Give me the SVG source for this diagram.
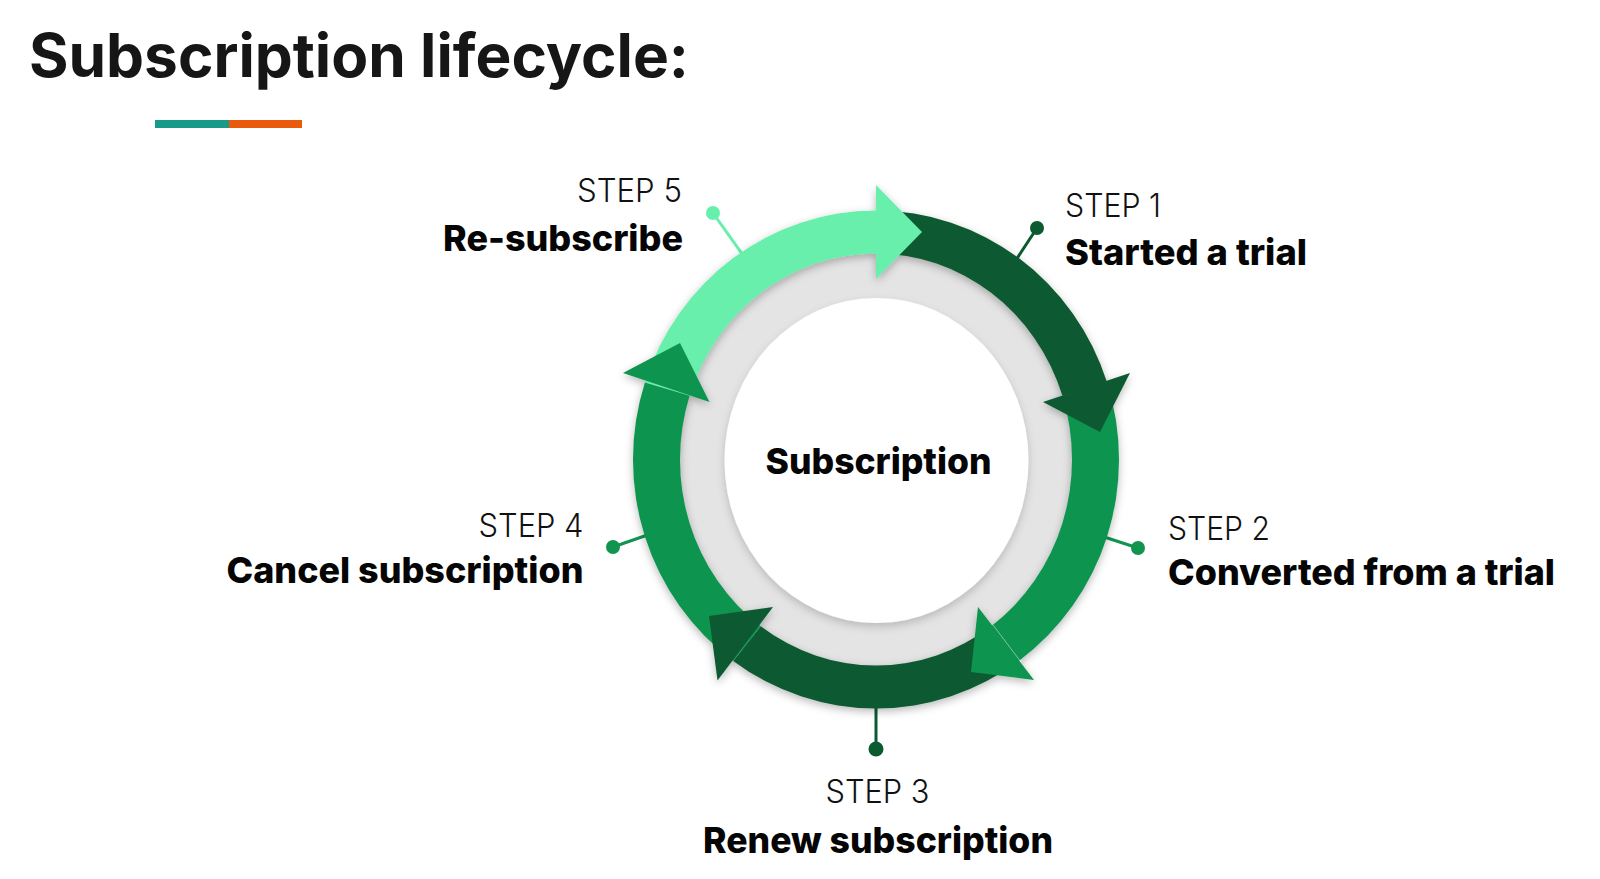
<svg xmlns="http://www.w3.org/2000/svg" width="1600" height="879" viewBox="0 0 1600 879">
  <defs>
    <filter id="bandShadow" x="-20%" y="-20%" width="140%" height="140%">
      <feDropShadow dx="0" dy="3" stdDeviation="4" flood-color="#000" flood-opacity="0.28"/>
    </filter>
    <filter id="discShadow" x="-20%" y="-20%" width="140%" height="140%">
      <feDropShadow dx="0" dy="4" stdDeviation="4" flood-color="#000" flood-opacity="0.18"/>
    </filter>
  </defs>
  <style>
    .title { font-family: Inter, "DejaVu Sans", sans-serif; font-weight: 700; font-size: 60px; fill: #161616; }
    .step { font-family: Inter, "Open Sans", sans-serif; font-weight: 300; font-size: 32px; fill: #111; }
    .lbl { font-family: Inter, "DejaVu Sans", sans-serif; font-weight: 800; font-size: 36px; fill: #050505; }
    .light { fill: #67efac; }
    .dark { fill: #0b5a30; }
    .mid { fill: #109450; }
    .stem { stroke-width: 3; fill: none; }
  </style>
  <rect width="1600" height="879" fill="#ffffff"/>

  <g id="title">
    <text class="title" x="29" y="77" textLength="660" lengthAdjust="spacingAndGlyphs">Subscription lifecycle:</text>
    <rect x="155" y="120" width="74" height="8" fill="#179a8a"/>
    <rect x="229" y="120" width="73" height="8" fill="#ea5a0c"/>
  </g>

  <g id="connectors">
    <line class="stem" x1="713" y1="213" x2="745" y2="258" stroke="#67efac"/>
    <circle cx="713" cy="213" r="7" class="light"/>
    <line class="stem" x1="1037" y1="228" x2="1012" y2="266" stroke="#0b5a30"/>
    <circle cx="1037" cy="228" r="7" class="dark"/>
    <line class="stem" x1="1138" y1="548" x2="1095" y2="534" stroke="#109450"/>
    <circle cx="1138" cy="548" r="7" class="mid"/>
    <line class="stem" x1="876" y1="749" x2="876" y2="700" stroke="#0b5a30"/>
    <circle cx="876" cy="749" r="7.5" class="dark"/>
    <line class="stem" x1="613" y1="547" x2="656" y2="532" stroke="#109450"/>
    <circle cx="613" cy="547" r="7" class="mid"/>
  </g>

  <g id="hub">
    <ellipse cx="876" cy="459.5" rx="222" ry="230" fill="#e4e4e4"/>
    <ellipse cx="876.5" cy="460.5" rx="152" ry="162.5" fill="#ffffff" filter="url(#discShadow)"/>
    <text class="lbl" x="878.5" y="474" text-anchor="middle" textLength="226" lengthAdjust="spacingAndGlyphs">Subscription</text>
  </g>

  <g id="ring" filter="url(#bandShadow)">
    <path class="light" d="M644.89 382.55 A243 249 0 0 1 876 210.5 L876 253.5 A196 206 0 0 0 689.59 395.84 Z"/>
    <path class="dark" d="M876 210.5 A243 249 0 0 1 1107.11 382.55 L1062.41 395.84 A196 206 0 0 0 876 253.5 Z"/>
    <path class="mid" d="M1107.11 382.55 A243 249 0 0 1 1018.83 660.95 L991.21 626.16 A196 206 0 0 0 1062.41 395.84 Z"/>
    <path class="dark" d="M1018.83 660.95 A243 249 0 0 1 733.17 660.95 L760.79 626.16 A196 206 0 0 0 991.21 626.16 Z"/>
    <path class="mid" d="M733.17 660.95 A243 249 0 0 1 644.89 382.55 L689.59 395.84 A196 206 0 0 0 760.79 626.16 Z"/>
    <polygon class="light" points="876,185 922,232 876,279"/>
    <polygon class="dark" points="1043,402 1130,373 1100,432"/>
    <polygon class="mid" points="978,607 1034,680 971,672"/>
    <line x1="993" y1="625" x2="1021" y2="662" stroke="#ffffff" stroke-opacity="0.45" stroke-width="1"/>
    <polygon class="dark" points="773,607 717.5,680.5 709,616"/>
    <polygon class="mid" points="623,373 709.5,402 680,343"/>
  </g>

  <g id="step1">
    <text class="step" x="1065" y="217" textLength="96" lengthAdjust="spacingAndGlyphs">STEP 1</text>
    <text class="lbl" x="1065" y="265" textLength="242" lengthAdjust="spacingAndGlyphs">Started a trial</text>
  </g>
  <g id="step2">
    <text class="step" x="1168" y="540" textLength="102" lengthAdjust="spacingAndGlyphs">STEP 2</text>
    <text class="lbl" x="1168" y="585" textLength="387" lengthAdjust="spacingAndGlyphs">Converted from a trial</text>
  </g>
  <g id="step3">
    <text class="step" x="877.5" y="803" text-anchor="middle" textLength="104" lengthAdjust="spacingAndGlyphs">STEP 3</text>
    <text class="lbl" x="878" y="853" text-anchor="middle" textLength="350" lengthAdjust="spacingAndGlyphs">Renew subscription</text>
  </g>
  <g id="step4">
    <text class="step" x="583.5" y="537" text-anchor="end" textLength="105" lengthAdjust="spacingAndGlyphs">STEP 4</text>
    <text class="lbl" x="583.5" y="583" text-anchor="end" textLength="357" lengthAdjust="spacingAndGlyphs">Cancel subscription</text>
  </g>
  <g id="step5">
    <text class="step" x="682" y="202" text-anchor="end" textLength="105" lengthAdjust="spacingAndGlyphs">STEP 5</text>
    <text class="lbl" x="683" y="251" text-anchor="end" textLength="240" lengthAdjust="spacingAndGlyphs">Re-subscribe</text>
  </g>
</svg>
